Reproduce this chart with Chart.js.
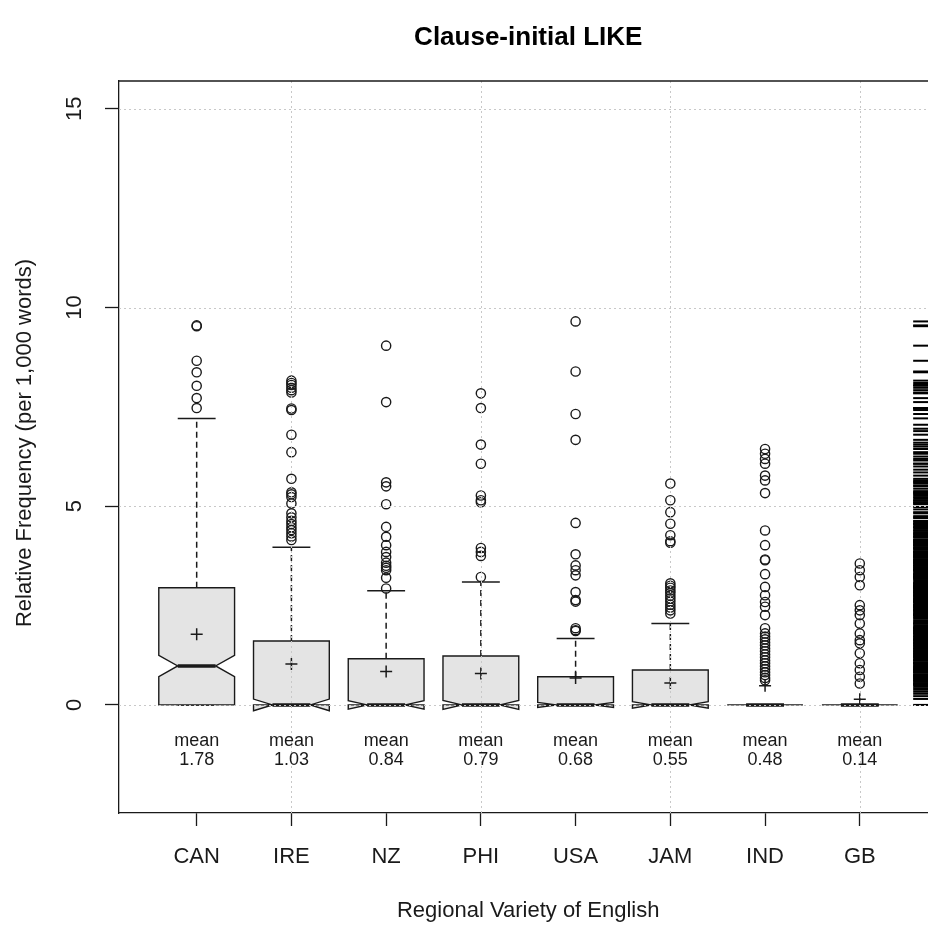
<!DOCTYPE html>
<html>
<head>
<meta charset="utf-8">
<script src="https://cdn.jsdelivr.net/npm/chart.js@4.4.1/dist/chart.umd.min.js"></script>
<style>
  html, body { margin: 0; padding: 0; overflow: hidden; background: #fff; }
  #wrap { width: 928px; height: 929px; }
</style>
</head>
<body>
<div id="wrap"><canvas id="myChart" width="928" height="929"></canvas></div>
<script>
// data
const categories  = ['CAN', 'IRE', 'NZ', 'PHI', 'USA', 'JAM', 'IND', 'GB'];
const q1          = [0, 0, 0, 0, 0, 0, 0, 0];
const medians     = [0.98, 0, 0, 0, 0, 0, 0, 0];
const q3          = [2.95, 1.61, 1.16, 1.23, 0.71, 0.88, 0, 0];
const whiskerLow  = [0, 0, 0, 0, 0, 0, 0, 0];
const whiskerHigh = [7.21, 3.97, 2.87, 3.09, 1.67, 2.05, 0, 0];
const notchHalf   = [0.27, 0.147, 0.106, 0.112, 0.065, 0.08, 0, 0];
const means       = [1.78, 1.03, 0.84, 0.79, 0.68, 0.55, 0.48, 0.14];

const outCAN = [9.55, 9.53, 8.66, 8.37, 8.03, 7.72, 7.47];
const outIRE = [8.16, 8.1, 8.05, 7.98, 7.92, 7.86, 7.46, 7.42, 6.8, 6.36, 5.69, 5.35, 5.3, 5.23,
                5.07, 4.82, 4.72, 4.63, 4.55, 4.47, 4.4, 4.32, 4.24, 4.15];
const outNZ  = [9.04, 7.62, 5.6, 5.5, 5.05, 4.48, 4.23, 4.02, 3.85, 3.72, 3.58, 3.5, 3.45, 3.39, 3.2, 2.93];
const outPHI = [7.84, 7.47, 6.55, 6.07, 5.27, 5.15, 5.1, 3.95, 3.85, 3.75, 3.22];
const outUSA = [9.65, 8.39, 7.32, 6.67, 4.58, 3.79, 3.51, 3.39, 3.26, 2.84, 2.64, 2.6, 1.93, 1.88, 1.86];
const outJAM = [5.57, 5.15, 4.85, 4.56, 4.27, 4.12, 4.08, 3.06, 3.0, 2.95, 2.88, 2.82, 2.75, 2.68,
                2.6, 2.52, 2.45, 2.38, 2.3];
const outIND = [6.44, 6.32, 6.19, 6.07, 5.77, 5.65, 5.33, 4.39, 4.02, 3.66, 3.64, 3.29, 2.97, 2.76,
                2.59, 2.47, 2.26, 1.93, 1.8, 1.72, 1.65, 1.57, 1.5, 1.42, 1.35, 1.27, 1.2, 1.12,
                1.05, 0.97, 0.9, 0.82, 0.75, 0.68, 0.62];
const outGB  = [3.56, 3.39, 3.22, 3.01, 2.51, 2.38, 2.26, 2.05, 1.8, 1.63, 1.55, 1.3, 1.05, 0.88, 0.71, 0.54];
const outliers = [outCAN, outIRE, outNZ, outPHI, outUSA, outJAM, outIND, outGB];

// values inside the whiskers, only visible on the rug at the right edge
const rugInner = [0, 0.15, 0.22, 0.28, 0.33, 0.38, 0.42,
  0.46, 0.5, 0.51, 0.55, 0.59, 0.61, 0.64, 0.67, 0.72, 0.74, 0.77, 0.81, 0.84, 0.86, 0.9, 0.93,
  0.95, 0.99, 1.02, 1.05, 1.07, 1.11, 1.14, 1.16, 1.2, 1.23, 1.25, 1.29, 1.32, 1.35, 1.38, 1.41,
  1.44, 1.47, 1.49, 1.53, 1.56, 1.6, 1.62, 1.66, 1.69, 1.72, 1.74, 1.78, 1.81, 1.84, 1.87, 1.9,
  1.95, 1.97, 2.0, 2.04, 2.07, 2.1, 2.13, 2.17, 2.2, 2.22, 2.26, 2.29, 2.33, 2.35, 2.39, 2.42,
  2.45, 2.48, 2.51, 2.55, 2.58, 2.61, 2.65, 2.68, 2.71, 2.74, 2.78, 2.8, 2.84, 2.88, 2.9, 2.94,
  2.97, 3.0, 3.04, 3.07, 3.1, 3.14, 3.17, 3.2, 3.23, 3.27, 3.3, 3.33, 3.36, 3.4, 3.43, 3.46,
  3.5, 3.53, 3.57, 3.6, 3.62, 3.66, 3.7, 3.73, 3.76, 3.8, 3.83, 3.86, 3.9, 3.93, 3.96, 4.0,
  4.04, 4.07, 4.1, 4.13, 4.17, 4.22, 4.3, 4.35, 4.45, 4.52, 4.62, 4.7, 4.75, 4.92, 4.98, 5.1,
  5.2, 5.38, 5.44, 5.52, 5.62, 5.85, 5.92, 6.0, 6.15, 6.25, 6.5, 6.6, 6.89, 6.95, 7.05, 7.21];

const yTicks = [0, 5, 10, 15];
const xGrid  = [2, 4, 6, 8];

const FONT = '"Liberation Sans", Arial, sans-serif';
const BOX_FILL = '#e4e4e4';
const INK = '#1a1a1a';
const BOX_WEX = 0.8;
const RUG_X = 8.69;

function line(ctx, x1, y1, x2, y2) {
  ctx.beginPath();
  ctx.moveTo(x1, y1);
  ctx.lineTo(x2, y2);
  ctx.stroke();
}

const boxPlot = {
  id: 'boxPlot',
  beforeDatasetsDraw(chart) {
    const { ctx, scales: { x, y } } = chart;
    ctx.save();
    ctx.strokeStyle = INK;
    categories.forEach((c, i) => {
      const pos = i + 1;
      const cx = x.getPixelForValue(pos);
      const hw = (x.getPixelForValue(pos + BOX_WEX / 2) - x.getPixelForValue(pos - BOX_WEX / 2)) / 2;

      // whiskers
      ctx.lineWidth = 1.5;
      ctx.setLineDash([6, 4]);
      line(ctx, cx, y.getPixelForValue(q3[i]), cx, y.getPixelForValue(whiskerHigh[i]));
      line(ctx, cx, y.getPixelForValue(q1[i]), cx, y.getPixelForValue(whiskerLow[i]));
      ctx.setLineDash([]);
      line(ctx, cx - hw / 2, y.getPixelForValue(whiskerHigh[i]), cx + hw / 2, y.getPixelForValue(whiskerHigh[i]));
      line(ctx, cx - hw / 2, y.getPixelForValue(whiskerLow[i]), cx + hw / 2, y.getPixelForValue(whiskerLow[i]));

      // notched box
      const lo = medians[i] - notchHalf[i];
      const hi = medians[i] + notchHalf[i];
      const pts = [[-1, q1[i]], [1, q1[i]], [1, lo], [0.5, medians[i]], [1, hi], [1, q3[i]],
                   [-1, q3[i]], [-1, hi], [-0.5, medians[i]], [-1, lo]];
      ctx.beginPath();
      pts.forEach(([fx, v], k) => {
        const px = cx + fx * hw, py = y.getPixelForValue(v);
        if (k === 0) ctx.moveTo(px, py); else ctx.lineTo(px, py);
      });
      ctx.closePath();
      ctx.fillStyle = BOX_FILL;
      ctx.fill();
      ctx.lineWidth = 1.4;
      ctx.stroke();

      // median
      ctx.lineWidth = 3.5;
      line(ctx, cx - hw / 2, y.getPixelForValue(medians[i]), cx + hw / 2, y.getPixelForValue(medians[i]));
    });
    ctx.restore();
  },
  afterDatasetsDraw(chart) {
    const { ctx, chartArea: a, scales: { x, y } } = chart;
    ctx.save();
    ctx.strokeStyle = '#c8c8c8';
    ctx.lineWidth = 1;
    ctx.setLineDash([2, 3]);
    yTicks.forEach(v => {
      const py = Math.round(y.getPixelForValue(v)) + 0.5;
      line(ctx, a.left, py, a.right, py);
    });
    xGrid.forEach(v => {
      const px = Math.round(x.getPixelForValue(v)) + 0.5;
      line(ctx, px, a.top, px, a.bottom);
    });
    ctx.restore();
  },
  afterDraw(chart) {
    const { ctx, chartArea: a, scales: { x, y } } = chart;
    ctx.save();
    ctx.strokeStyle = INK;
    ctx.lineWidth = 1.3;
    line(ctx, a.left, a.top, a.right, a.top);

    ctx.fillStyle = '#000';
    ctx.textAlign = 'center';
    ctx.textBaseline = 'middle';
    // R centres titles on the full plot region, which runs past the right edge here
    const midX = x.getPixelForValue(4.5);

    ctx.font = 'bold 26px ' + FONT;
    ctx.fillText('Clause-initial LIKE', midX, 38);

    ctx.fillStyle = INK;
    ctx.font = '22px ' + FONT;
    ctx.fillText('Regional Variety of English', midX, 911);

    ctx.save();
    ctx.translate(25, (a.top + a.bottom) / 2 - 4);
    ctx.rotate(-Math.PI / 2);
    ctx.fillText('Relative Frequency (per 1,000 words)', 0, 0);
    ctx.restore();

    yTicks.forEach(v => {
      ctx.save();
      ctx.translate(75, y.getPixelForValue(v));
      ctx.rotate(-Math.PI / 2);
      ctx.fillText(String(v), 0, 0);
      ctx.restore();
    });

    ctx.font = '18px ' + FONT;
    means.forEach((m, i) => {
      const cx = x.getPixelForValue(i + 1);
      ctx.fillText('mean', cx, y.getPixelForValue(-0.9));
      ctx.fillText(m.toFixed(2), cx, y.getPixelForValue(-1.38));
    });
    ctx.restore();
  }
};

const outlierPoints = [];
outliers.forEach((arr, i) => arr.forEach(v => outlierPoints.push({ x: i + 1, y: v })));
const meanPoints = means.map((m, i) => ({ x: i + 1, y: m }));
const rugPoints = outliers.flat().concat(rugInner).map(v => ({ x: RUG_X, y: v }));

new Chart(document.getElementById('myChart'), {
  type: 'scatter',
  data: {
    datasets: [
      {
        data: outlierPoints,
        pointStyle: 'circle',
        pointRadius: 4.6,
        borderColor: INK,
        borderWidth: 1.4,
        backgroundColor: 'rgba(0,0,0,0)'
      },
      {
        data: meanPoints,
        pointStyle: 'cross',
        pointRadius: 6,
        borderColor: INK,
        borderWidth: 1.5
      },
      {
        data: rugPoints,
        pointStyle: 'line',
        pointRadius: 12,
        borderColor: '#000',
        borderWidth: 2,
        clip: false
      }
    ]
  },
  options: {
    responsive: false,
    animation: false,
    events: [],
    layout: { autoPadding: false, padding: { top: 81, right: 0, left: 0, bottom: 0 } },
    plugins: {
      legend: { display: false },
      tooltip: { enabled: false },
      title: { display: false }
    },
    scales: {
      x: {
        type: 'linear',
        min: 0.18,
        max: 8.72,
        afterFit: s => { s.height = 116; s.paddingLeft = 0; s.paddingRight = 0; },
        ticks: {
          stepSize: 1,
          includeBounds: false,
          autoSkip: false,
          maxRotation: 0,
          minRotation: 0,
          padding: 18,
          color: INK,
          font: { family: FONT, size: 22 },
          callback: v => categories[v - 1] || ''
        },
        grid: { drawOnChartArea: false, drawTicks: true, tickLength: 13, color: INK, tickWidth: 1.3 },
        border: { display: true, color: INK, width: 1.3 }
      },
      y: {
        type: 'linear',
        min: -2.72,
        max: 15.7,
        afterFit: s => { s.width = 119; s.paddingTop = 0; s.paddingBottom = 0; },
        ticks: { display: false, stepSize: 5, includeBounds: false },
        grid: { drawOnChartArea: false, drawTicks: true, tickLength: 14, color: INK, tickWidth: 1.3 },
        border: { display: true, color: INK, width: 1.3 }
      }
    }
  },
  plugins: [boxPlot]
});
</script>
</body>
</html>
